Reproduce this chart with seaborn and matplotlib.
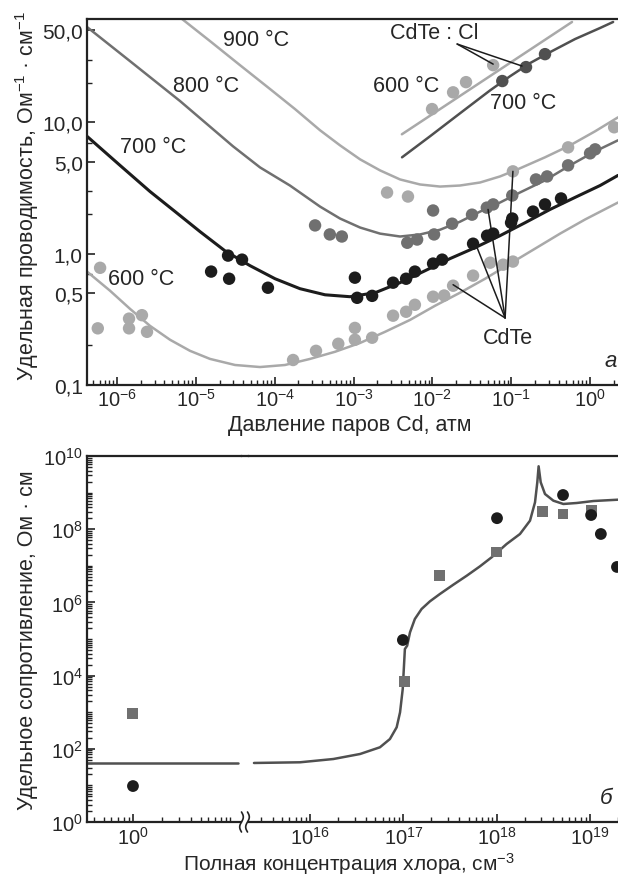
import numpy as np
import matplotlib
matplotlib.use("Agg")
import matplotlib.pyplot as plt
import seaborn as sns
from matplotlib.lines import Line2D
from matplotlib.ticker import LogLocator, NullFormatter

LIGHT = "#a9a9a9"
MID = "#707070"
DARK = "#505050"
BLACK = "#1c1c1c"

# ---------- panel a: conductivity vs Cd vapour pressure ----------
# fitted curves, undoped CdTe
P_900 = [6.7e-6, 1.51e-5, 3.63e-5, 8.73e-5, 1.81e-4, 3.76e-4, 6.74e-4, 1.21e-3, 2.17e-3, 3.89e-3,
         6.98e-3, 1.25e-2, 2.24e-2, 4.03e-2, 7.21e-2, 0.129, 0.268, 0.557, 1.16, 2.26]
S_900 = [61, 41.5, 27.2, 17.9, 12.6, 8.69, 6.67, 5.22, 4.30, 3.67,
         3.36, 3.24, 3.30, 3.48, 3.87, 4.46, 5.41, 6.67, 8.54, 10.9]
P_800 = [4.16e-7, 1.46e-6, 6.3e-6, 2.96e-5, 6.52e-5, 1.56e-4, 3.76e-4, 6.74e-4, 1.21e-3, 2.17e-3,
         3.89e-3, 6.98e-3, 1.25e-2, 2.24e-2, 4.03e-2, 7.21e-2, 0.129, 0.268, 0.557, 1.16, 2.26]
S_800 = [53.1, 29.2, 14.5, 6.56, 4.53, 3.30, 2.28, 1.85, 1.58, 1.42,
         1.35, 1.40, 1.52, 1.75, 2.09, 2.45, 2.92, 3.61, 4.70, 6.01, 7.29]
P_700 = [4.16e-7, 1.09e-6, 2.62e-6, 5.45e-6, 1.13e-5, 2.34e-5, 4.86e-5, 1.01e-4, 2.09e-4, 4.35e-4,
         9.0e-4, 1.88e-3, 3.89e-3, 8.07e-3, 1.67e-2, 3.47e-2, 7.21e-2, 0.150, 0.311, 0.645,
         1.34, 2.26]
S_700 = [7.82, 4.70, 2.97, 2.09, 1.47, 1.05, 0.81, 0.644, 0.541, 0.486,
         0.47, 0.504, 0.601, 0.741, 0.916, 1.11, 1.37, 1.72, 2.17, 2.68,
         3.30, 3.94]
P_600 = [4.16e-7, 8.15e-7, 1.46e-6, 2.62e-6, 4.70e-6, 8.43e-6, 1.51e-5, 3.14e-5, 6.5e-5, 1.35e-4,
         2.81e-4, 5.82e-4, 1.21e-3, 2.51e-3, 5.21e-3, 1.08e-2, 2.24e-2, 4.66e-2, 9.66e-2, 0.200,
         0.416, 0.865, 2.26]
S_600 = [0.73, 0.522, 0.380, 0.282, 0.221, 0.182, 0.158, 0.142, 0.137, 0.142,
         0.158, 0.179, 0.209, 0.254, 0.313, 0.401, 0.504, 0.644, 0.839, 1.09,
         1.42, 1.82, 2.45]
# fitted curves, CdTe:Cl
P_CL600 = [4.1e-3, 0.59]
S_CL600 = [8.1, 58]
P_CL700 = [4.12e-3, 9.33e-3, 2.24e-2, 5.40e-2, 9.66e-2, 0.173, 0.311, 0.645, 1.34, 1.96]
S_CL700 = [5.41, 7.82, 11.7, 17.5, 22.4, 28.2, 34.2, 43.0, 52.2, 58.0]

# measured points, undoped CdTe
PT900_P = [2.66e-3, 4.9e-3, 0.105, 0.526, 2.02]
PT900_S = [2.92, 2.72, 4.23, 6.44, 9.16]
PT800_P = [3.25e-4, 5.0e-4, 7.1e-4, 4.8e-3, 6.4e-3, 1.05e-2, 1.02e-2, 1.78e-2, 3.18e-2,
           4.9e-2, 5.9e-2, 0.103, 0.206, 0.285, 0.526, 1.0, 1.16]
PT800_S = [1.64, 1.40, 1.35, 1.21, 1.28, 1.40, 2.13, 1.69, 1.98,
           2.24, 2.37, 2.77, 3.67, 3.87, 4.70, 5.80, 6.22]
PT700_P = [1.56e-5, 2.56e-5, 3.85e-5, 2.64e-5, 8.2e-5, 1.04e-3, 1.11e-3, 1.72e-3, 3.17e-3,
           4.64e-3, 6.0e-3, 1.02e-2, 1.33e-2, 3.28e-2, 4.94e-2, 5.9e-2, 0.0995, 0.103,
           0.189, 0.268, 0.428]
PT700_S = [0.73, 0.966, 0.90, 0.644, 0.55, 0.656, 0.461, 0.477, 0.601,
           0.644, 0.73, 0.84, 0.90, 1.19, 1.37, 1.42, 1.72, 1.85,
           2.09, 2.37, 2.63]
PT600_P = [6.1e-7, 5.7e-7, 1.42e-6, 1.42e-6, 2.07e-6, 2.4e-6, 1.71e-4, 3.34e-4, 6.4e-4,
           1.04e-3, 1.04e-3, 1.72e-3, 3.17e-3, 4.64e-3, 6.0e-3, 1.02e-2, 1.41e-2, 1.83e-2,
           3.28e-2, 5.4e-2, 7.9e-2, 0.105]
PT600_S = [0.78, 0.27, 0.32, 0.27, 0.34, 0.254, 0.155, 0.182, 0.206,
           0.221, 0.272, 0.229, 0.337, 0.361, 0.408, 0.47, 0.48, 0.57,
           0.68, 0.853, 0.824, 0.87]
# measured points, CdTe:Cl
PTCL600_P = [9.9e-3, 1.83e-2, 2.67e-2, 5.9e-2]
PTCL600_S = [12.6, 16.9, 20.2, 27.2]
PTCL700_P = [7.7e-2, 0.154, 0.268]
PTCL700_S = [20.6, 26.3, 33.0]

# leader lines (tip -> targets)
CDTE_TIP = (8.36e-2, 0.324)
CDTE_TARGETS = [(1.83e-2, 0.58), (3.69e-2, 1.11), (5.08e-2, 2.17), (0.105, 4.23)]
CL_TIP = (2.06e-2, 39.4)
CL_TARGETS = [(5.9e-2, 27.7), (0.137, 26.8)]

P_TICKS = [1e-6, 1e-5, 1e-4, 1e-3, 1e-2, 1e-1, 1e0]
P_LABELS = [r"$10^{-6}$", r"$10^{-5}$", r"$10^{-4}$", r"$10^{-3}$",
            r"$10^{-2}$", r"$10^{-1}$", r"$10^{0}$"]
S_TICKS = [0.1, 0.5, 1, 5, 10, 50]
S_LABELS = ["0,1", "0,5", "1,0", "5,0", "10,0", "50,0"]

# ---------- panel b: resistivity vs chlorine concentration ----------
UNDOPED_N = [1.0]
UNDOPED_SQ = [900]
UNDOPED_CI = [9.6]
FIT_LEFT_N = [0.336, 12.1]
FIT_LEFT_R = [41, 41]
FIT_N = [2.51e15, 7.82e15, 1.78e16, 3.44e16, 5.62e16, 7.19e16, 8.49e16, 9.23e16, 9.86e16,
         1.04e17, 1.10e17, 1.18e17, 1.33e17, 1.57e17, 1.93e17, 2.47e17, 3.44e17, 4.79e17,
         6.64e17, 8.85e17, 1.28e18, 1.78e18, 2.28e18, 2.58e18, 2.73e18, 2.82e18, 2.97e18,
         3.30e18, 4.06e18, 5.19e18, 7.23e18, 1.09e19, 2.0e19]
FIT_R = [41, 42.8, 52.6, 72.1, 110, 185, 387, 993, 4.3e3,
         5.33e4, 6.56e4, 1.52e5, 3.52e5, 6.6e5, 1.07e6, 1.70e6, 3.05e6, 5.37e6,
         9.69e6, 1.71e7, 3.94e7, 7.39e7, 1.71e8, 5.43e8, 1.91e9, 5.24e9, 1.91e9,
         9.16e8, 6.01e8, 4.89e8, 5.20e8, 5.89e8, 6.40e8]
SQ_N = [1.02e17, 2.47e17, 9.9e17, 3.07e18, 5.15e18, 1.03e19]
SQ_R = [7.1e3, 5.3e6, 2.38e7, 3.1e8, 2.6e8, 3.3e8]
CI_N = [9.9e16, 1.01e18, 5.15e18, 1.03e19, 1.31e19, 1.95e19]
CI_R = [9.4e4, 2.0e8, 8.6e8, 2.44e8, 7.4e7, 9.3e6]

R_TICKS = [1e0, 1e2, 1e4, 1e6, 1e8, 1e10]
R_LABELS = [r"$10^{0}$", r"$10^{2}$", r"$10^{4}$", r"$10^{6}$", r"$10^{8}$", r"$10^{10}$"]
N_TICKS = [1e16, 1e17, 1e18, 1e19]
N_LABELS = [r"$10^{16}$", r"$10^{17}$", r"$10^{18}$", r"$10^{19}$"]

sns.set_style("ticks")
plt.rcParams.update({
    "font.family": ["Liberation Sans", "DejaVu Sans"],
    "font.size": 15,
    "mathtext.fontset": "custom",
    "mathtext.rm": "Liberation Sans",
    "mathtext.it": "Liberation Sans:italic",
    "mathtext.bf": "Liberation Sans:bold",
    "axes.linewidth": 1.6,
    "axes.edgecolor": "#222222",
    "xtick.direction": "in",
    "ytick.direction": "in",
})

W, H = 618, 878
fig = plt.figure(figsize=(W / 100, H / 100), dpi=100)


def box(x0, y0, x1, y1):
    return [x0 / W, 1 - y1 / H, (x1 - x0) / W, (y1 - y0) / H]


def style_axis(ax, size=15):
    ax.tick_params(which="major", length=6, width=1.2, pad=3, labelsize=size, color="#222222")
    ax.tick_params(which="minor", length=3.5, width=1.0, color="#222222")
    ax.spines["right"].set_visible(False)


def line(ax, x, y, color, lw=1.8):
    sns.lineplot(x=x, y=y, color=color, linewidth=lw, estimator=None, sort=False, ax=ax, zorder=2)


def dots(ax, x, y, color, marker="o", s=80):
    sns.scatterplot(x=x, y=y, color=color, marker=marker, s=s, edgecolor="none",
                    linewidth=0, ax=ax, zorder=3)


# ---- panel a ----
ax = fig.add_axes(box(87, 20, 618, 386))
ax.set_xscale("log")
ax.set_yscale("log")
line(ax, P_900, S_900, LIGHT)
line(ax, P_800, S_800, MID)
line(ax, P_700, S_700, BLACK, lw=2.2)
line(ax, P_600, S_600, LIGHT)
line(ax, P_CL600, S_CL600, LIGHT)
line(ax, P_CL700, S_CL700, DARK)
for tip, targets in [(CDTE_TIP, CDTE_TARGETS), (CL_TIP, CL_TARGETS)]:
    for tx, ty in targets:
        ax.plot([tip[0], tx], [tip[1], ty], color=BLACK, lw=1.1, zorder=4)
dots(ax, PT900_P, PT900_S, LIGHT)
dots(ax, PT800_P, PT800_S, MID)
dots(ax, PT700_P, PT700_S, BLACK)
dots(ax, PT600_P, PT600_S, LIGHT)
dots(ax, PTCL600_P, PTCL600_S, LIGHT)
dots(ax, PTCL700_P, PTCL700_S, DARK)

ax.set_xlim(4.16e-7, 2.26)
ax.set_ylim(0.1, 61.1)
ax.set_xticks(P_TICKS, labels=P_LABELS)
ax.xaxis.set_minor_locator(LogLocator(base=10, subs=np.arange(2, 10), numticks=20))
ax.xaxis.set_minor_formatter(NullFormatter())
ax.set_yticks(S_TICKS, labels=S_LABELS)
ax.set_yticks([0.2, 0.7, 2, 3, 7, 20, 30], minor=True)
ax.yaxis.set_minor_formatter(NullFormatter())
style_axis(ax)
ax.tick_params(axis="x", labelsize=14.5, pad=2)
ax.set_xlabel("Давление паров Cd, атм", fontsize=15.5)
ax.xaxis.set_label_coords(0.495, -0.08)
ax.set_ylabel("Удельная проводимость, Ом$^{-1}$ · см$^{-1}$", fontsize=15.5)
ax.yaxis.set_label_coords(-0.086, 0.52)

for txt, (fx, fy) in {"900 °C": (0.256, 0.945), "800 °C": (0.162, 0.817),
                      "700 °C": (0.062, 0.653), "600 °C": (0.040, 0.290)}.items():
    ax.text(fx, fy, txt, transform=ax.transAxes, fontsize=15.5, va="center", ha="left")
ax.text(0.539, 0.817, "600 °C", transform=ax.transAxes, fontsize=15.5, va="center")
ax.text(0.759, 0.773, "700 °C", transform=ax.transAxes, fontsize=15.5, va="center")
ax.text(0.571, 0.964, "CdTe : Cl", transform=ax.transAxes, fontsize=15.5, va="center")
ax.text(0.746, 0.131, "CdTe", transform=ax.transAxes, fontsize=15.5, va="center")
ax.text(0.975, 0.066, "а", transform=ax.transAxes, fontsize=16, va="center", ha="left",
        fontstyle="italic")

# ---- panel b (broken x axis) ----
axl = fig.add_axes(box(87, 457, 241, 823))
axr = fig.add_axes(box(249, 457, 618, 823), sharey=axl)
for a in (axl, axr):
    a.set_xscale("log")
    a.set_yscale("log")

line(axl, FIT_LEFT_N, FIT_LEFT_R, DARK)
dots(axl, UNDOPED_N, UNDOPED_SQ, MID, marker="s", s=62)
dots(axl, UNDOPED_N, UNDOPED_CI, BLACK, s=72)
line(axr, FIT_N, FIT_R, DARK)
dots(axr, SQ_N, SQ_R, MID, marker="s", s=62)
dots(axr, CI_N, CI_R, BLACK, s=72)

axl.set_xlim(0.336, 12.98)
axr.set_xlim(2.22e15, 2.0e19)
axl.set_ylim(1, 1e10)
axl.set_yticks(R_TICKS, labels=R_LABELS)
axl.yaxis.set_minor_locator(LogLocator(base=10, subs=np.arange(1, 10), numticks=30))
axl.yaxis.set_minor_formatter(NullFormatter())
axl.set_xticks([1.0], labels=[r"$10^{0}$"])
axl.xaxis.set_minor_locator(LogLocator(base=10, subs=np.arange(1, 10), numticks=20))
axl.xaxis.set_minor_formatter(NullFormatter())
axr.set_xticks(N_TICKS, labels=N_LABELS)
axr.xaxis.set_minor_locator(LogLocator(base=10, subs=np.arange(2, 10), numticks=20))
axr.xaxis.set_minor_formatter(NullFormatter())
style_axis(axl, 14.5)
style_axis(axr, 14.5)
axr.spines["left"].set_visible(False)
axr.tick_params(axis="y", which="both", left=False, labelleft=False)
axl.set_ylabel("Удельное сопротивление, Ом · см", fontsize=15.5)
axl.yaxis.set_label_coords(-0.315, 0.5)
axr.set_xlabel("Полная концентрация хлора, см$^{-3}$", fontsize=15)
axr.xaxis.set_label_coords(0.27, -0.078)
axr.text(0.951, 0.068, "б", transform=axr.transAxes, fontsize=16, va="center",
         fontstyle="italic")

# bridge the top frame over the gap and draw the break marks
fig.add_artist(Line2D([241 / W, 249 / W], [1 - 457 / H, 1 - 457 / H], color="#222222", lw=1.6))
t = np.linspace(0, 1, 40)
for x0 in (241.5, 247.5):
    xs = x0 + 1.8 * np.sin(2 * np.pi * t)
    ys = 813 + 20 * t
    fig.add_artist(Line2D(xs / W, 1 - ys / H, color="#222222", lw=1.2))

fig.savefig("out.png", dpi=100)
